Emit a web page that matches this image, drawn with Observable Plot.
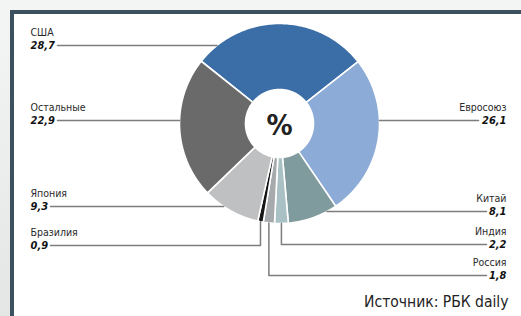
<!DOCTYPE html>
<html><head><meta charset="utf-8">
<script src="https://cdn.jsdelivr.net/npm/d3@7"></script>
<script src="https://cdn.jsdelivr.net/npm/@observablehq/plot@0.6"></script>
<style>
html,body{margin:0;padding:0;}
body{width:521px;height:316px;overflow:hidden;background:linear-gradient(#f4f5f5,#e4e6e6);position:relative;}
#frame{position:absolute;left:10px;top:10px;right:-10px;bottom:-10px;background:#fff;border-top:4px solid #3c5160;border-left:4px solid #3c5160;}
#chart{position:absolute;left:0;top:0;}
#chart svg text{font-family:"Liberation Sans Narrow","Arial Narrow","DejaVu Sans Condensed",sans-serif;}
</style></head><body><div id="frame"></div><div id="chart"></div>
<script>
// ---- data ----
const countries = ["США","Евросоюз","Китай","Индия","Россия","Бразилия","Япония","Остальные"];
const shares = [28.7,26.1,8.1,2.2,1.8,0.9,9.3,22.9];
const shareLabels = ["28,7","26,1","8,1","2,2","1,8","0,9","9,3","22,9"];
const centerLabel = "%";
const sourceText = "Источник: РБК daily";

// ---- styles / layout ----
const sliceColors = ["#3b6ea6","#8cabd7","#7f9b9e","#a9c0c4","#a7aaac","#151515","#bfc0c1","#6a6a6a"];
const W = 521, H = 316, CX = 279, CY = 123, R = 100;
const startDeg = -51.5, innerR = 0.34;
const labelSide = ["left","right","right","right","right","left","left","left"];
const labelRowPx = [45,120,211,244,275,245,206,120];
const leaderKind = ["h","h","h","v","v","v","h","h"];
const leaderOuterPx = [57,478,486,486,486,50,50,57];
const px2x = p => (p - CX) / R, py2y = p => (CY - p) / R;

const total = d3.sum(shares);
let cum = 0;
const slices = countries.map((name, i) => {
  const a0 = (startDeg + cum / total * 360) * Math.PI / 180;
  cum += shares[i];
  const a1 = (startDeg + cum / total * 360) * Math.PI / 180;
  return {name, i, a0, a1, mid: (a0 + a1) / 2};
});
const pts = [];
for (const s of slices) {
  const n = Math.max(4, Math.ceil((s.a1 - s.a0) * 60));
  for (let k = 0; k <= n; k++) { const a = s.a0 + (s.a1 - s.a0) * k / n; pts.push({name: s.name, x: Math.sin(a), y: Math.cos(a)}); }
  for (let k = n; k >= 0; k--) { const a = s.a0 + (s.a1 - s.a0) * k / n; pts.push({name: s.name, x: innerR * Math.sin(a), y: innerR * Math.cos(a)}); }
}
const leaders = [];
slices.forEach((s, i) => {
  const yRow = py2y(labelRowPx[i]);
  const xo = px2x(leaderOuterPx[i]);
  if (leaderKind[i] === "h") {
    const xe = (labelSide[i] === "left" ? -1 : 1) * Math.sqrt(1 - yRow * yRow);
    leaders.push({id: i, x: xo, y: yRow}, {id: i, x: xe, y: yRow});
  } else {
    const xm = Math.sin(s.mid);
    leaders.push({id: i, x: xo, y: yRow}, {id: i, x: xm, y: yRow}, {id: i, x: xm, y: -Math.sqrt(1 - xm * xm)});
  }
});
const labels = slices.map((s, i) => ({
  name: s.name, value: shareLabels[i],
  x: px2x(labelSide[i] === "left" ? 30 : 506),
  y: py2y(labelRowPx[i]), yName: py2y(labelRowPx[i] - 12.5),
  anchor: labelSide[i] === "left" ? "start" : "end"
}));
const leftL = labels.filter(d => d.anchor === "start"), rightL = labels.filter(d => d.anchor === "end");

const chart = Plot.plot({
  width: W, height: H, margin: 0,
  x: {domain: [px2x(0), px2x(W)], axis: null},
  y: {domain: [py2y(H), py2y(0)], axis: null},
  color: {domain: countries, range: sliceColors},
  marks: [
    Plot.line(pts, {x: "x", y: "y", z: "name", fill: "name", stroke: "white", strokeWidth: 1.6, curve: "linear-closed"}),
    Plot.line(leaders, {x: "x", y: "y", z: "id", stroke: "#7d7d7d", strokeWidth: 1.5}),
    Plot.text(leftL, {x: "x", y: "yName", text: "name", textAnchor: "start", fontSize: 10.5, fill: "#2a2a2a"}),
    Plot.text(leftL, {x: "x", y: "y", text: "value", textAnchor: "start", fontSize: 11, fontWeight: "bold", fontStyle: "italic", fill: "#111"}),
    Plot.text(rightL, {x: "x", y: "yName", text: "name", textAnchor: "end", fontSize: 10.5, fill: "#2a2a2a"}),
    Plot.text(rightL, {x: "x", y: "y", text: "value", textAnchor: "end", fontSize: 11, fontWeight: "bold", fontStyle: "italic", fill: "#111"}),
    Plot.text([centerLabel], {x: () => 0, y: () => py2y(CY + 2), text: d => d, fontSize: 29, fontWeight: "bold", fill: "#222"}),
    Plot.text([sourceText], {x: () => px2x(508), y: () => py2y(302), text: d => d, textAnchor: "end", fontSize: 15.5, fill: "#222"})
  ]
});
chart.style.background = "transparent";
document.getElementById("chart").appendChild(chart);
</script></body></html>
